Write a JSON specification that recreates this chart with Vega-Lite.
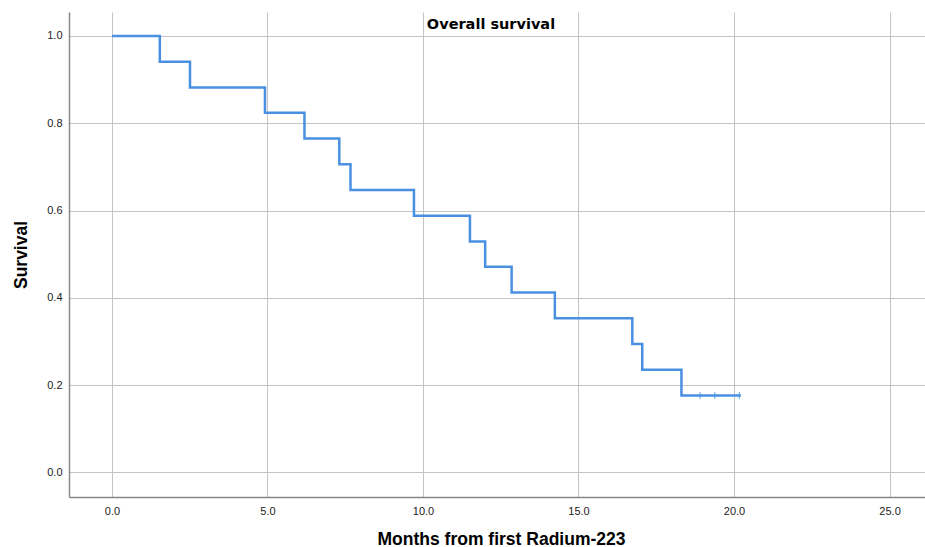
{
  "$schema": "https://vega.github.io/schema/vega-lite/v6.json",
  "autosize": {"type": "none"},
  "padding": {"left": 69, "top": 12, "right": 0, "bottom": 50},
  "width": 856,
  "height": 485,
  "background": "white",
  "title": {"text": "Overall survival", "anchor": "middle", "frame": "group", "orient": "top", "offset": -27, "baseline": "middle", "font": "DejaVu Sans", "fontSize": 14.5, "fontWeight": "bold", "color": "#000000", "dx": -6},
  "datasets": {
    "km": [
      {"month": 0, "survival": 1.0},
      {"month": 1.54, "survival": 0.941},
      {"month": 2.51, "survival": 0.882},
      {"month": 4.92, "survival": 0.824},
      {"month": 6.19, "survival": 0.765},
      {"month": 7.31, "survival": 0.706},
      {"month": 7.67, "survival": 0.647},
      {"month": 9.71, "survival": 0.588},
      {"month": 11.51, "survival": 0.529},
      {"month": 12.0, "survival": 0.471},
      {"month": 12.85, "survival": 0.412},
      {"month": 14.24, "survival": 0.353},
      {"month": 16.73, "survival": 0.294},
      {"month": 17.05, "survival": 0.235},
      {"month": 18.31, "survival": 0.176},
      {"month": 20.22, "survival": 0.176}
    ],
    "censored": [
      {"month": 18.91, "survival": 0.176},
      {"month": 19.38, "survival": 0.176},
      {"month": 20.17, "survival": 0.176}
    ]
  },
  "config": {
    "view": {"stroke": null},
    "axis": {
      "labelFont": "Liberation Sans", "labelFontSize": 11, "labelColor": "#222222",
      "titleFont": "Liberation Sans", "titleFontSize": 17.5, "titleFontWeight": "bold", "titleColor": "#000000",
      "gridColor": "#c4c4c4", "gridWidth": 1, "gridOpacity": 1,
      "domainColor": "#888888", "domainWidth": 1.5, "ticks": false
    }
  },
  "layer": [
    {
      "data": {"name": "km"},
      "mark": {"type": "line", "interpolate": "step-after", "color": "#4a90e2", "strokeWidth": 2.5},
      "encoding": {
        "x": {"field": "month", "type": "quantitative", "scale": {"domain": [-1.38, 26.14], "nice": false, "zero": false},
          "axis": {"values": [0, 5, 10, 15, 20, 25], "format": ".1f", "title": "Months from first Radium-223", "labelPadding": 8, "titlePadding": 14, "titleX": 432}},
        "y": {"field": "survival", "type": "quantitative", "scale": {"domain": [-0.0566, 1.055], "nice": false, "zero": false},
          "axis": {"values": [0, 0.2, 0.4, 0.6, 0.8, 1.0], "format": ".1f", "title": "Survival", "labelPadding": 7, "titlePadding": 16}}
      }
    },
    {
      "data": {"name": "censored"},
      "mark": {"type": "tick", "orient": "vertical", "color": "#4a90e2", "size": 7, "thickness": 1.2},
      "encoding": {
        "x": {"field": "month", "type": "quantitative"},
        "y": {"field": "survival", "type": "quantitative"}
      }
    }
  ]
}
